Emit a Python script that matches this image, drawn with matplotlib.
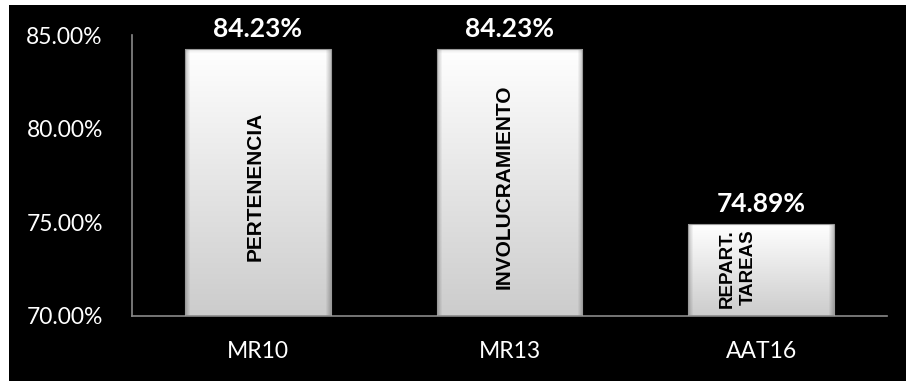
import numpy as np
import matplotlib
matplotlib.use("Agg")
import matplotlib.pyplot as plt
from matplotlib.patches import Rectangle

categories = ["MR10", "MR13", "AAT16"]
values = [84.23, 84.23, 74.89]
value_labels = ["84.23%", "84.23%", "74.89%"]
bar_names = ["PERTENENCIA", "INVOLUCRAMIENTO", "REPART.\nTAREAS"]
y_ticks = [70, 75, 80, 85]
y_tick_labels = ["70.00%", "75.00%", "80.00%", "85.00%"]

W, H = 906, 381
fig = plt.figure(figsize=(W / 100, H / 100), dpi=100, facecolor="white")

# black chart area inside a thin white margin
bg = fig.add_axes([9 / W, 0, 1 - 9 / W, 1 - 5 / H])
bg.set_facecolor("black")
bg.set_xticks([])
bg.set_yticks([])
for s in bg.spines.values():
    s.set_visible(False)

ax = fig.add_axes([132 / W, 65 / H, 755 / W, 281 / H])
ax.set_facecolor("none")

tick_font = ["Lato", "DejaVu Sans"]
ax.set_yticks(y_ticks)
ax.set_yticklabels(y_tick_labels, fontsize=16.5, color="white", family=tick_font)
ax.set_xticks(range(len(categories)))
ax.set_xticklabels(categories, fontsize=16.5, color="white", family=tick_font)
ax.tick_params(axis="y", length=0, pad=21)
ax.tick_params(axis="x", length=0, pad=18)

for side in ["top", "right"]:
    ax.spines[side].set_visible(False)
for side in ["left", "bottom"]:
    ax.spines[side].set_color("#8a8a8a")
    ax.spines[side].set_linewidth(1.2)

bar_width = 0.58
bars = ax.bar(range(len(categories)), [v - 70 for v in values], bottom=70,
              width=bar_width, color="none", edgecolor="none", zorder=2)

# shaded fill: light at the top, grey at the bottom, bevelled sides
ny, nx = 200, 120
t = np.linspace(0, 1, ny)[:, None]
u = np.linspace(0, 1, nx)[None, :]
shade = 1.0 - 0.20 * t
edge = np.minimum(u, 1 - u) * nx
bevel = np.clip(edge / 4.0, 0, 1)
shade = shade * (0.78 + 0.22 * bevel)
top_band = np.clip(np.linspace(0, 1, ny)[:, None] * ny / 3.0, 0, 1)
shade = shade * (0.92 + 0.08 * top_band)
rgb = np.dstack([shade, shade, shade])

for bar in bars:
    x0, y0 = bar.get_x(), bar.get_y()
    w, h = bar.get_width(), bar.get_height()
    im = ax.imshow(rgb, extent=[x0, x0 + w, y0, y0 + h], aspect="auto",
                   origin="upper", zorder=2, interpolation="bilinear")
    clip = Rectangle((x0, y0), w, h, transform=ax.transData)
    im.set_clip_path(clip)
    ax.add_patch(Rectangle((x0, y0), w, h, fill=False, edgecolor="#9a9a9a",
                           linewidth=0.8, zorder=3))

ax.set_xlim(-0.5, len(categories) - 0.5)
ax.set_ylim(70, 85)

for i, (v, lab) in enumerate(zip(values, value_labels)):
    ax.annotate(lab, (i, v), xytext=(0, 6), textcoords="offset points",
                ha="center", va="bottom", fontsize=19, fontweight="bold",
                color="white", family=tick_font, zorder=4)

name_dx = [-0.01, -0.02, -0.093]
name_dy = [-0.2, -0.2, 0.1]
name_sizes = [15, 15, 13.5]
for i, (v, name) in enumerate(zip(values, bar_names)):
    ax.text(i + name_dx[i], 70 + (v - 70) / 2 + name_dy[i], name, rotation=90,
            ha="center", va="center", multialignment="right",
            fontsize=name_sizes[i], fontweight="bold", color="black",
            family="Liberation Sans", linespacing=1.35, zorder=4)

fig.savefig("out.png", dpi=100, facecolor=fig.get_facecolor())
